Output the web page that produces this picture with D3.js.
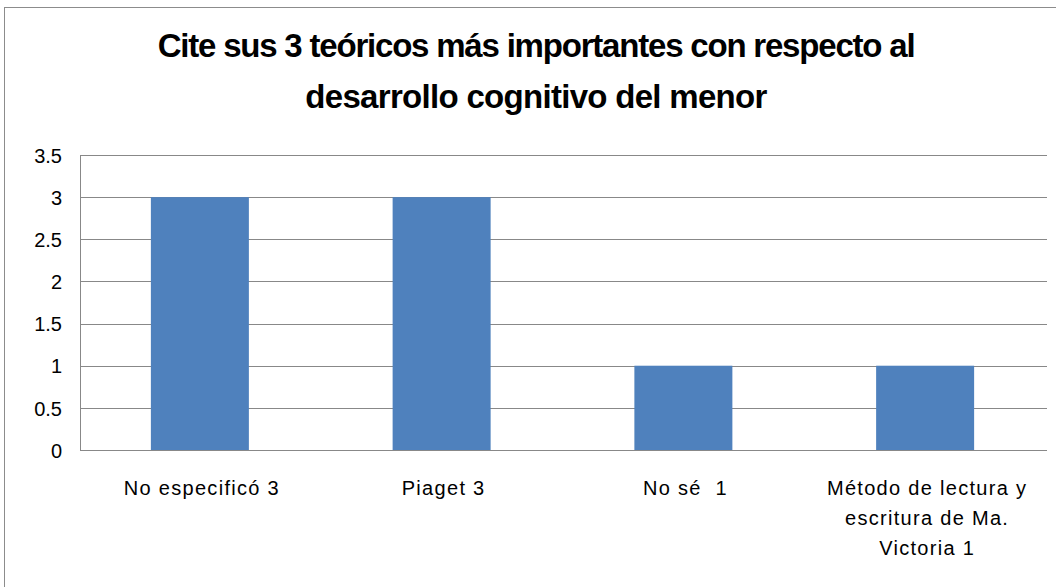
<!DOCTYPE html>
<html>
<head>
<meta charset="utf-8">
<script src="https://cdn.jsdelivr.net/npm/d3@7"></script>
<style>
  body { margin: 0; background: #fff; }
  svg { display: block; }
</style>
</head>
<body>
<div id="chart"></div>
<script>
const titleLines = ['Cite sus 3 teóricos más importantes con respecto al', 'desarrollo cognitivo del menor'];
const categories = [
    ['No especificó 3'],
    ['Piaget 3'],
    ['No sé  1'],
    ['Método de lectura y', 'escritura de Ma.', 'Victoria 1']
];
const values = [3, 3, 1, 1];
const yTicks = [0, 0.5, 1, 1.5, 2, 2.5, 3, 3.5];

function drawChart() {
    const width = 1056, height = 587;
    const margin = { top: 155, right: 9, bottom: 137, left: 80 };
    const innerW = width - margin.left - margin.right,
          innerH = height - margin.top - margin.bottom;

    const svg = d3.select('#chart').append('svg')
        .attr('width', width)
        .attr('height', height);

    // marco exterior
    svg.append('rect')
        .attr('x', 4.5).attr('y', 7.5)
        .attr('width', width).attr('height', height)
        .attr('fill', 'none')
        .attr('stroke', '#8c8c8c')
        .attr('stroke-width', 1);

    // titulo
    svg.append('g').selectAll('text')
        .data(titleLines)
        .enter().append('text')
        .attr('x', 536)
        .attr('y', (d, i) => 57 + i * 51)
        .attr('text-anchor', 'middle')
        .style('font-family', '"Liberation Sans", Arial, sans-serif')
        .style('font-weight', 'bold')
        .style('font-size', '33px')
        .style('letter-spacing', (d, i) => i === 0 ? '-1.2px' : '-0.7px')
        .text(d => d);

    const g = svg.append('g')
        .attr('transform', `translate(${margin.left},${margin.top})`);

    const y = d3.scaleLinear()
        .domain([0, 3.5])
        .range([innerH, 0]);

    // lineas de cuadricula
    g.append('g').selectAll('line')
        .data(yTicks.filter(t => t > 0))
        .enter().append('line')
        .attr('x1', 0).attr('x2', innerW)
        .attr('y1', d => Math.round(y(d)) + 0.5)
        .attr('y2', d => Math.round(y(d)) + 0.5)
        .attr('stroke', '#888')
        .attr('stroke-width', 1);

    // barras
    const step = innerW / categories.length;
    const barW = 98;
    g.append('g').selectAll('rect')
        .data(values)
        .enter().append('rect')
        .attr('x', (d, i) => i * step + (step - barW) / 2 - 1)
        .attr('y', d => y(d))
        .attr('width', barW)
        .attr('height', d => innerH - y(d))
        .attr('fill', '#4f81bd');

    // eje Y
    const yAxis = g.append('g')
        .call(d3.axisLeft(y).tickValues(yTicks).tickSize(0).tickPadding(18).tickFormat(d3.format('')));
    yAxis.select('.domain').attr('stroke', '#888');
    yAxis.selectAll('text')
        .style('font-family', '"Liberation Sans", Arial, sans-serif')
        .style('font-size', '20px')
        .attr('dy', '0.36em')
        .attr('fill', '#000');

    // eje X
    g.append('line')
        .attr('x1', 0).attr('x2', innerW)
        .attr('y1', innerH + 0.5).attr('y2', innerH + 0.5)
        .attr('stroke', '#888');

    const labels = g.append('g').selectAll('text')
        .data(categories)
        .enter().append('text')
        .attr('transform', (d, i) => `translate(${i * step + step / 2 + 1},${innerH + 45})`)
        .attr('text-anchor', 'middle')
        .style('font-family', '"Liberation Sans", Arial, sans-serif')
        .style('font-size', '20px')
        .style('white-space', 'pre')
        .style('letter-spacing', '1.3px');
    labels.selectAll('tspan')
        .data(d => d)
        .enter().append('tspan')
        .attr('x', 0)
        .attr('dy', (d, i) => i === 0 ? 0 : 30)
        .text(d => d);
}

window.onload = drawChart;
</script>
</body>
</html>
